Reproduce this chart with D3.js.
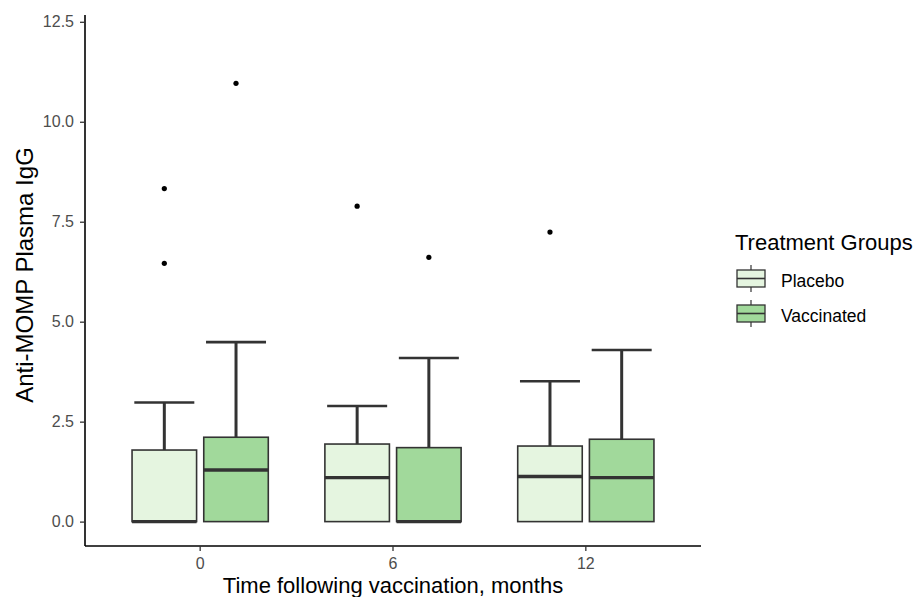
<!DOCTYPE html>
<html>
<head>
<meta charset="utf-8">
<script src="https://cdn.jsdelivr.net/npm/d3@7"></script>
<style>
  body { margin: 0; background: #fff; }
  svg { display: block; font-family: "Liberation Sans", Arial, sans-serif; }
</style>
</head>
<body>
<svg id="chart" width="918" height="597"></svg>
<script>
// Time points and treatment groups
const times = ["0", "6", "12"];
const groups = ["Placebo", "Vaccinated"];
const yTicks = [0, 2.5, 5, 7.5, 10, 12.5];

// Box statistics per time point (0, 6, 12 months)
const placeboLow = [0, 0, 0];
const placeboQ1 = [0, 0, 0];
const placeboMedian = [0, 1.10, 1.13];
const placeboQ3 = [1.79, 1.94, 1.89];
const placeboHigh = [2.98, 2.89, 3.51];
const placeboOutliers = [[8.33, 6.46], [7.89], [7.24]];

const vaccinatedLow = [0, 0, 0];
const vaccinatedQ1 = [0, 0, 0];
const vaccinatedMedian = [1.29, 0, 1.10];
const vaccinatedQ3 = [2.11, 1.85, 2.06];
const vaccinatedHigh = [4.49, 4.09, 4.29];
const vaccinatedOutliers = [[10.96], [6.61], []];

const fills = ["#e5f5e0", "#a1d99b"];

const stats = {
  Placebo: { low: placeboLow, q1: placeboQ1, med: placeboMedian, q3: placeboQ3, high: placeboHigh, out: placeboOutliers },
  Vaccinated: { low: vaccinatedLow, q1: vaccinatedQ1, med: vaccinatedMedian, q3: vaccinatedQ3, high: vaccinatedHigh, out: vaccinatedOutliers }
};

const boxes = [];
times.forEach((t, i) => {
  groups.forEach(g => {
    const s = stats[g];
    boxes.push({ time: t, group: g, low: s.low[i], q1: s.q1[i], med: s.med[i], q3: s.q3[i], high: s.high[i], out: s.out[i] });
  });
});

const svg = d3.select("#chart");
const panel = { left: 85, right: 701, top: 15, bottom: 546 };

const x = d3.scaleBand().domain(times).range([panel.left, panel.right])
  .paddingInner(0.2935).paddingOuter(0.244);
const xg = d3.scaleBand().domain(groups).range([0, x.bandwidth()]).paddingInner(0.1);
const y = d3.scaleLinear().domain([-0.61, 12.67]).range([panel.bottom, panel.top]);
const color = d3.scaleOrdinal().domain(groups).range(fills);

const ink = "#333333";

// Boxes
const g = svg.append("g");
const bw = xg.bandwidth();
const capW = 60;
boxes.forEach(b => {
  const x0 = x(b.time) + xg(b.group);
  const cx = x0 + bw / 2;
  // upper whisker
  g.append("line").attr("x1", cx).attr("x2", cx)
    .attr("y1", y(b.q3)).attr("y2", y(b.high))
    .attr("stroke", ink).attr("stroke-width", 3);
  g.append("line").attr("x1", cx - capW / 2).attr("x2", cx + capW / 2)
    .attr("y1", y(b.high)).attr("y2", y(b.high))
    .attr("stroke", ink).attr("stroke-width", 2.6);
  // lower whisker
  if (b.q1 > b.low) {
    g.append("line").attr("x1", cx).attr("x2", cx)
      .attr("y1", y(b.low)).attr("y2", y(b.q1))
      .attr("stroke", ink).attr("stroke-width", 3);
  }
  // box
  g.append("rect").attr("x", x0).attr("width", bw)
    .attr("y", y(b.q3)).attr("height", y(b.q1) - y(b.q3))
    .attr("fill", color(b.group)).attr("stroke", ink).attr("stroke-width", 1.6);
  // median
  g.append("line").attr("x1", x0).attr("x2", x0 + bw)
    .attr("y1", y(b.med)).attr("y2", y(b.med))
    .attr("stroke", ink).attr("stroke-width", 3.4);
  // outliers
  b.out.forEach(v => {
    g.append("circle").attr("cx", cx).attr("cy", y(v)).attr("r", 2.6).attr("fill", "#000");
  });
});

// Axes
const yAxis = svg.append("g").attr("transform", `translate(${panel.left},0)`)
  .call(d3.axisLeft(y).tickValues(yTicks).tickFormat(d3.format(".1f")).tickSizeOuter(0).tickSize(5).tickPadding(6));
const xAxis = svg.append("g").attr("transform", `translate(0,${panel.bottom})`)
  .call(d3.axisBottom(x).tickSizeOuter(0).tickSize(5).tickPadding(7));
[yAxis, xAxis].forEach(a => {
  a.select(".domain").attr("stroke", "#000").attr("stroke-width", 1.6);
  a.selectAll(".tick line").attr("stroke", "#333").attr("stroke-width", 1.3);
  a.selectAll(".tick text").attr("fill", "#4d4d4d").attr("font-size", 16)
    .attr("font-family", "'Liberation Sans', Arial, sans-serif");
});
yAxis.select(".domain").attr("d", `M0,${panel.top}V${panel.bottom}`);
xAxis.select(".domain").attr("d", `M${panel.left},0H${panel.right}`);

// Axis titles
svg.append("text").attr("transform", "translate(33,275) rotate(-90)")
  .attr("text-anchor", "middle").attr("font-size", 24).attr("fill", "#000")
  .text("Anti-MOMP Plasma IgG");
svg.append("text").attr("x", (panel.left + panel.right) / 2).attr("y", 593)
  .attr("text-anchor", "middle").attr("font-size", 22).attr("fill", "#000")
  .text("Time following vaccination, months");

// Legend
const leg = svg.append("g").attr("transform", "translate(735,0)");
leg.append("text").attr("x", 0).attr("y", 250).attr("font-size", 22).attr("fill", "#000")
  .text("Treatment Groups");
groups.forEach((grp, i) => {
  const ky = 270 + i * 35;
  const k = leg.append("g").attr("transform", `translate(2,${ky})`);
  k.append("line").attr("x1", 14).attr("x2", 14).attr("y1", -5).attr("y2", 22)
    .attr("stroke", ink).attr("stroke-width", 1.2);
  k.append("rect").attr("x", 0).attr("y", 0).attr("width", 28).attr("height", 17)
    .attr("fill", color(grp)).attr("stroke", ink).attr("stroke-width", 1.3);
  k.append("line").attr("x1", 0).attr("x2", 28).attr("y1", 8.5).attr("y2", 8.5)
    .attr("stroke", ink).attr("stroke-width", 1.6);
  leg.append("text").attr("x", 46).attr("y", ky + 17).attr("font-size", 17.5).attr("fill", "#000")
    .text(grp);
});
</script>
</body>
</html>
